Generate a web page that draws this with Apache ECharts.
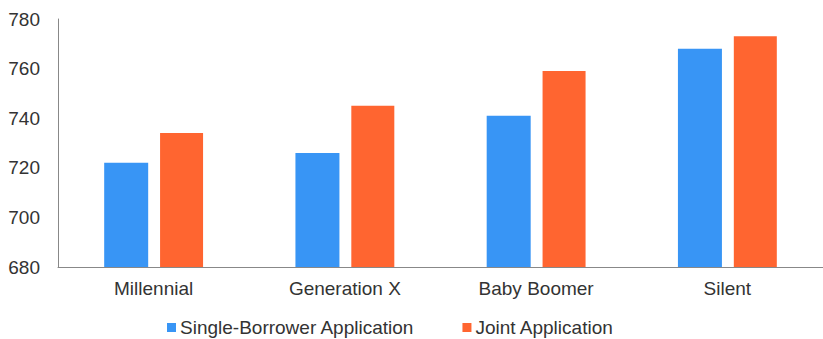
<!DOCTYPE html>
<html>
<head>
<meta charset="utf-8">
<script src="https://cdn.jsdelivr.net/npm/echarts@6/dist/echarts.min.js"></script>
<style>
  html, body { margin: 0; padding: 0; background: #fff; }
  #chart { width: 823px; height: 339px; }
</style>
</head>
<body>
<div id="chart"></div>
<script>
const categories = ["Millennial", "Generation X", "Baby Boomer", "Silent"];
const singleBorrower = [722, 726, 741, 768];
const jointApp = [734, 745, 759, 773];
const yTicks = { min: 680, max: 780, interval: 20 };

const chart = echarts.init(document.getElementById("chart"), null, { renderer: "svg" });

const font = "Liberation Sans, Arial, sans-serif";

const option = {
  animation: false,
  textStyle: { fontFamily: font },
  grid: { left: 58, right: -5, top: 19, bottom: 72 },
  legend: {
    top: 313,
    left: 162,
    itemWidth: 9,
    itemHeight: 9,
    itemGap: 48,
    icon: "rect",
    textStyle: { fontSize: 19, color: "#333", fontFamily: font, padding: [0, 0, 0, -1] },
    data: ["Single-Borrower Application", "Joint Application"],
  },
  xAxis: {
    type: "category",
    data: categories,
    axisLine: { lineStyle: { color: "#888" } },
    axisTick: { show: false },
    axisLabel: { fontSize: 19, color: "#333", margin: 12 },
  },
  yAxis: {
    type: "value",
    min: yTicks.min,
    max: yTicks.max,
    interval: yTicks.interval,
    axisLine: { show: true, lineStyle: { color: "#888" } },
    axisTick: { show: false },
    splitLine: { show: false },
    axisLabel: { fontSize: 19, color: "#333", margin: 18 },
  },
  series: [
    {
      name: "Single-Borrower Application",
      type: "bar",
      data: singleBorrower,
      barWidth: 44,
      barGap: "27%",
      itemStyle: { color: "#3895f5" },
    },
    {
      name: "Joint Application",
      type: "bar",
      data: jointApp,
      barWidth: 43,
      itemStyle: { color: "#ff6530" },
    },
  ],
};

chart.setOption(option);
</script>
</body>
</html>
